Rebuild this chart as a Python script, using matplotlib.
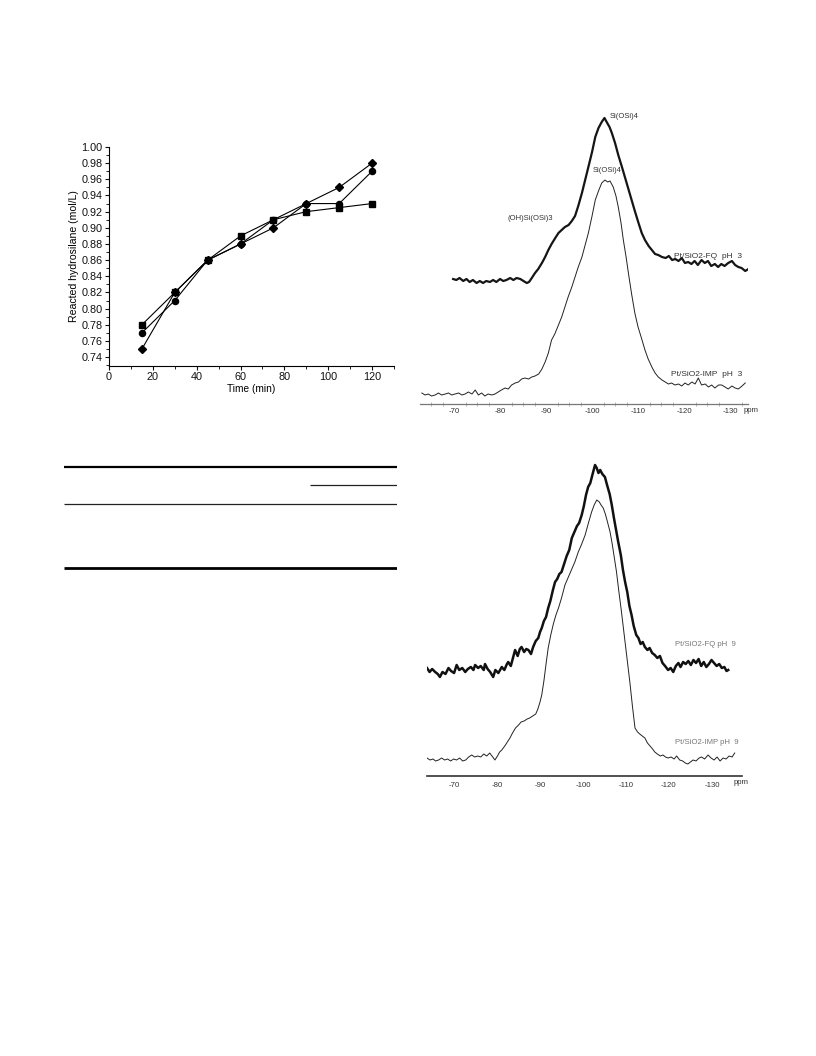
import matplotlib
matplotlib.use("Agg")
import matplotlib.pyplot as plt
import numpy as np

plt.rcParams["font.family"] = ["Liberation Sans", "DejaVu Sans"]

W, H = 816, 1056

# ---- kinetics data (reacted hydrosilane vs time) ----
time_min = [15, 30, 45, 60, 75, 90, 105, 120]
series_diamond = [0.75, 0.82, 0.86, 0.88, 0.90, 0.93, 0.95, 0.98]
series_circle = [0.77, 0.81, 0.86, 0.88, 0.91, 0.93, 0.93, 0.97]
series_square = [0.78, 0.82, 0.86, 0.89, 0.91, 0.92, 0.925, 0.93]

# ---- 29Si NMR, pH 3 (ppm, intensity) ----
fq3_ppm = [-69.8, -70.5, -71.2, -72.0, -72.7, -73.4, -74.1, -74.9, -75.6, -76.3, -77.0, -77.8,
           -78.5, -79.2, -80.0, -80.7, -81.4, -82.2, -82.9, -83.6, -84.4, -85.1, -85.8, -86.3,
           -86.9, -87.6, -88.3, -89.1, -89.8, -90.5, -91.2, -92.0, -92.7, -93.4, -94.1, -94.9,
           -95.6, -96.3, -97.0, -97.8, -98.5, -99.2, -100.0, -100.7, -101.4, -102.1, -102.7,
           -103.3, -103.8, -104.3, -105.0, -105.7, -106.5, -107.2, -107.9, -108.6, -109.3,
           -110.1, -110.8, -111.5, -112.3, -113.0, -113.7, -114.4, -115.2, -116.0, -116.7,
           -117.4, -118.1, -118.8, -119.5, -120.2, -120.9, -121.6, -122.3, -123.0, -123.8,
           -124.5, -125.2, -125.9, -126.7, -127.4, -128.1, -128.8, -129.6, -130.4, -131.1,
           -131.8, -132.5, -133.3, -134.0]
fq3_int = [125, 124, 126, 123, 125, 122, 124, 121, 123, 121, 123, 122,
           124, 122, 125, 123, 124, 126, 124, 126, 125, 123, 121, 122,
           126, 131, 135, 141, 147, 154, 160, 166, 171, 174, 177, 179,
           183, 188, 198, 211, 224, 237, 252, 267, 276, 282, 286,
           281, 277, 271, 261, 249, 237, 226, 215, 204, 193,
           181, 171, 164, 158, 154, 150, 149, 147, 146, 148,
           144, 145, 143, 146, 141, 142, 140, 143, 139, 144,
           141, 143, 138, 140, 137, 140, 138, 141, 143, 139,
           137, 136, 133, 135]

imp3_ppm = [-63.0, -63.7, -64.4, -65.1, -65.9, -66.6, -67.3, -68.1, -68.8, -69.5, -70.2, -71.0,
            -71.7, -72.4, -73.1, -73.9, -74.6, -75.3, -76.0, -76.7, -77.4, -78.2, -78.9, -79.6,
            -80.3, -81.1, -81.8, -82.5, -83.3, -84.0, -84.7, -85.4, -86.2, -86.9, -87.6, -88.4,
            -89.1, -89.8, -90.5, -91.2, -91.9, -92.7, -93.4, -94.1, -94.8, -95.6, -96.3, -97.0,
            -97.8, -98.5, -99.2, -100.0, -100.7, -101.4, -102.1, -102.8, -103.4, -103.9, -104.6,
            -105.2, -105.7, -106.3, -106.8, -107.4, -107.9, -108.6, -109.3, -110.0, -110.8,
            -111.5, -112.2, -113.0, -113.7, -114.4, -115.2, -115.9, -116.6, -117.3, -118.0,
            -118.8, -119.5, -120.2, -120.9, -121.7, -122.4, -123.1, -123.8, -124.6, -125.3,
            -126.0, -126.7, -127.5, -128.2, -128.9, -129.6, -130.4, -131.1, -131.8, -132.6, -133.3]
imp3_int = [11, 9, 10, 8, 9, 11, 9, 10, 11, 9, 10, 11,
            9, 10, 12, 10, 14, 9, 11, 8, 10, 9, 10, 12,
            14, 16, 15, 19, 21, 22, 25, 26, 25, 27, 28, 30,
            35, 42, 51, 64, 70, 79, 87, 97, 107, 117, 127, 137,
            147, 159, 171, 188, 204, 213, 221, 224, 222, 223, 217,
            208, 197, 181, 164, 147, 131, 110, 91, 77, 65,
            54, 45, 37, 31, 27, 24, 22, 20, 21, 19,
            20, 18, 21, 19, 22, 20, 26, 19, 20, 17,
            19, 16, 19, 19, 17, 15, 18, 16, 15, 18, 21]

# ---- 29Si NMR, pH 9 (ppm, intensity) ----
fq9_ppm = [-63.7, -64.3, -64.9, -65.6, -66.2, -66.7, -67.3, -68.0, -68.7, -69.3, -70.0, -70.6,
           -71.2, -71.9, -72.6, -73.2, -73.9, -74.5, -74.9, -75.6, -76.2, -76.9, -77.2, -77.8,
           -78.4, -79.1, -79.6, -80.3, -81.1, -81.7, -82.3, -82.6, -83.2, -83.7, -84.2, -84.8,
           -85.3, -85.7, -86.3, -86.8, -87.3, -87.9, -88.4, -89.0, -89.6, -90.0, -90.4, -90.9,
           -91.4, -91.9, -92.4, -93.0, -93.5, -94.0, -94.5, -95.0, -95.6, -96.2, -96.8, -97.4,
           -98.0, -98.6, -99.1, -99.7, -100.2, -100.7, -101.2, -101.7, -102.3, -102.8, -103.2,
           -103.6, -104.0, -104.5, -105.1, -105.6, -106.2, -106.7, -107.2, -107.7, -108.2,
           -108.8, -109.3, -109.8, -110.3, -110.8, -111.3, -111.8, -112.4, -112.9, -113.4,
           -113.9, -114.4, -115.0, -115.5, -116.1, -116.7, -117.3, -117.9, -118.5, -119.1,
           -119.8, -120.4, -121.0, -121.6, -122.2, -122.7, -123.3, -123.9, -124.5, -125.1,
           -125.7, -126.3, -126.9, -127.5, -128.1, -128.7, -129.3, -129.9, -130.5, -131.1,
           -131.7, -132.3, -132.9, -133.4, -133.8]
fq9_int = [108, 104, 107, 104, 102, 99, 104, 102, 108, 105, 103, 111,
           106, 108, 104, 107, 109, 106, 111, 108, 110, 106, 112, 107,
           104, 99, 106, 103, 109, 106, 112, 114, 110, 118, 126, 120,
           127, 129, 124, 127, 126, 122, 129, 135, 138, 144, 148, 155,
           159, 168, 175, 186, 194, 197, 202, 204, 212, 220, 226, 238,
           244, 250, 253, 261, 270, 281, 289, 293, 303, 311, 308,
           303, 306, 302, 299, 291, 282, 271, 258, 246, 234,
           221, 206, 194, 184, 170, 161, 150, 141, 138, 132,
           134, 129, 126, 128, 123, 121, 118, 120, 113, 110,
           106, 108, 104, 110, 113, 109, 114, 112, 115, 111,
           116, 113, 117, 110, 114, 109, 112, 116, 113, 110,
           112, 108, 109, 105, 106]

imp9_ppm = [-63.7, -64.4, -65.1, -65.7, -66.4, -67.1, -67.8, -68.5, -69.2, -69.9, -70.6, -71.3,
            -72.0, -72.7, -73.4, -74.1, -74.8, -75.5, -76.2, -76.9, -77.6, -78.3, -79.0, -79.5,
            -80.1, -80.6, -81.1, -81.8, -82.4, -83.0, -83.6, -84.3, -85.0, -85.6, -86.3, -87.0,
            -87.6, -88.3, -89.0, -89.5, -90.0, -90.4, -90.9, -91.4, -91.9, -92.5, -93.1, -93.7,
            -94.3, -95.0, -95.8, -96.5, -97.3, -98.1, -98.9, -99.7, -100.5, -101.2, -102.0,
            -102.6, -103.2, -103.8, -104.2, -104.7, -105.2, -105.7, -106.3, -106.8, -107.3,
            -107.8, -108.3, -108.9, -109.4, -109.9, -110.4, -110.9, -111.5, -112.1, -112.7,
            -113.2, -113.8, -114.4, -115.0, -115.6, -116.2, -116.7, -117.3, -118.0, -118.6,
            -119.2, -119.8, -120.5, -121.2, -121.8, -122.5, -123.2, -123.8, -124.4, -125.0,
            -125.6, -126.3, -127.0, -127.6, -128.3, -129.1, -129.8, -130.5, -131.2, -131.9,
            -132.6, -133.3, -134.0, -134.7, -135.3]
imp9_int = [18, 16, 17, 15, 16, 18, 16, 17, 15, 17, 16, 18,
            15, 16, 19, 21, 19, 20, 19, 22, 20, 23, 19, 16,
            20, 24, 26, 30, 34, 38, 43, 48, 51, 54, 55, 57,
            58, 60, 62, 67, 74, 81, 95, 112, 128, 141, 152, 161,
            168, 178, 191, 198, 206, 214, 224, 232, 241, 252, 264,
            271, 276, 274, 271, 268, 262, 254, 244, 232, 218,
            204, 186, 166, 148, 130, 112, 94, 70, 48, 44,
            42, 40, 38, 33, 30, 27, 24, 22, 20, 21,
            19, 18, 19, 17, 20, 16, 15, 13, 12, 14,
            16, 15, 18, 19, 17, 21, 18, 16, 19, 15,
            18, 17, 20, 19, 23]

nmr_ticks = [-70, -80, -90, -100, -110, -120, -130]


def px_axes(fig, x0, y0, x1, y1):
    """Add axes given pixel box (left, top, right, bottom)."""
    return fig.add_axes([x0 / W, 1 - y1 / H, (x1 - x0) / W, (y1 - y0) / H])


fig = plt.figure(figsize=(W / 100, H / 100), dpi=100)

# ---------------- kinetics plot ----------------
ax = px_axes(fig, 109, 147, 394, 366)
ax.plot(time_min, series_diamond, color="black", lw=0.8, marker="D", ms=3.8)
ax.plot(time_min, series_circle, color="black", lw=0.8, marker="o", ms=4.4)
ax.plot(time_min, series_square, color="black", lw=0.8, marker="s", ms=4.2)
ax.set_xlim(0, 129.5)
ax.set_ylim(0.729, 1.0)
ax.set_xticks(range(0, 121, 20))
ax.set_xticks(range(10, 131, 10), minor=True)
ax.set_yticks(np.arange(0.74, 1.001, 0.02))
ax.set_yticks(np.arange(0.73, 1.0, 0.01), minor=True)
ax.yaxis.set_major_formatter(plt.FormatStrFormatter("%.2f"))
ax.spines["top"].set_visible(False)
ax.spines["right"].set_visible(False)
for s in ("left", "bottom"):
    ax.spines[s].set_linewidth(0.8)
ax.tick_params(which="major", direction="out", length=3, width=0.8, labelsize=7.8,
               pad=1.5, colors="#111")
ax.tick_params(which="minor", direction="out", length=2, width=0.6)
ax.set_xlabel("Time (min)", fontsize=7.3, labelpad=1)
ax.set_ylabel("Reacted hydrosilane (mol/L)", fontsize=7.6, labelpad=2)

# ---------------- table rules ----------------
tab = px_axes(fig, 64, 455, 397, 580)
tab.set_xlim(64, 397)
tab.set_ylim(580, 455)
tab.axis("off")
tab.hlines(466.7, 64, 397, color="black", lw=1.6)
tab.hlines(485, 310, 397, color="#222", lw=0.9)
tab.hlines(504.3, 64, 397, color="#222", lw=0.9)
tab.hlines(567.7, 64, 397, color="black", lw=2.0)


def nmr_axes(box, xlim, ylim, tick_y, ppm_xy, spine_color, spine_lw):
    a = px_axes(fig, *box)
    a.set_xlim(*xlim)
    a.set_ylim(*ylim)
    for s in ("top", "right", "left"):
        a.spines[s].set_visible(False)
    a.spines["bottom"].set_color(spine_color)
    a.spines["bottom"].set_linewidth(spine_lw)
    a.set_yticks([])
    a.set_xticks(nmr_ticks)
    a.set_xticklabels([str(t) for t in nmr_ticks])
    a.tick_params(axis="x", length=0, labelsize=5.6, pad=tick_y, colors="#333")
    a.text(ppm_xy[0], ppm_xy[1], "ppm", fontsize=5.6, color="#333",
           ha="left", va="center", clip_on=False)
    return a


# ---------------- NMR pH 3 ----------------
n1 = nmr_axes((420, 100, 748, 404), (-62.6, -133.9), (0, 304), 3, (-133.0, -7), "#777", 0.9)
n1.set_xticks(np.arange(-65, -135, -2.5), minor=True)
n1.tick_params(axis="x", which="minor", direction="inout", length=2.5, width=0.5, color="#999")
n1.plot(fq3_ppm, fq3_int, color="#151515", lw=1.6)
n1.plot(imp3_ppm, imp3_int, color="#222", lw=0.7)
lab = dict(fontsize=5.5, color="#333", ha="left", va="center")
n1.text(-103.9, 287, "Si(OSi)4", **lab)
n1.text(-100.2, 234, "Si(OSi)4", **lab)
n1.text(-81.7, 185, "(OH)Si(OSi)3", **lab)
n1.text(-117.8, 148, "Pt/SiO2-FQ  pH  3", fontsize=6, color="#333", ha="left", va="center")
n1.text(-117.2, 30, "Pt/SiO2-IMP  pH  3", fontsize=6, color="#333", ha="left", va="center")

# ---------------- NMR pH 9 ----------------
n2 = nmr_axes((427, 455, 742, 776), (-63.7, -137.0), (0, 321), 4, (-135.1, -6), "#333", 1.2)
n2.plot(fq9_ppm, fq9_int, color="#111", lw=1.8)
n2.plot(imp9_ppm, imp9_int, color="#222", lw=0.7)
n2.text(-121.4, 131, "Pt/SiO2-FQ pH  9", fontsize=5.6, color="#777", ha="left", va="center")
n2.text(-121.4, 33, "Pt/SiO2-IMP pH  9", fontsize=5.6, color="#777", ha="left", va="center")

fig.savefig("out.png", dpi=100)
